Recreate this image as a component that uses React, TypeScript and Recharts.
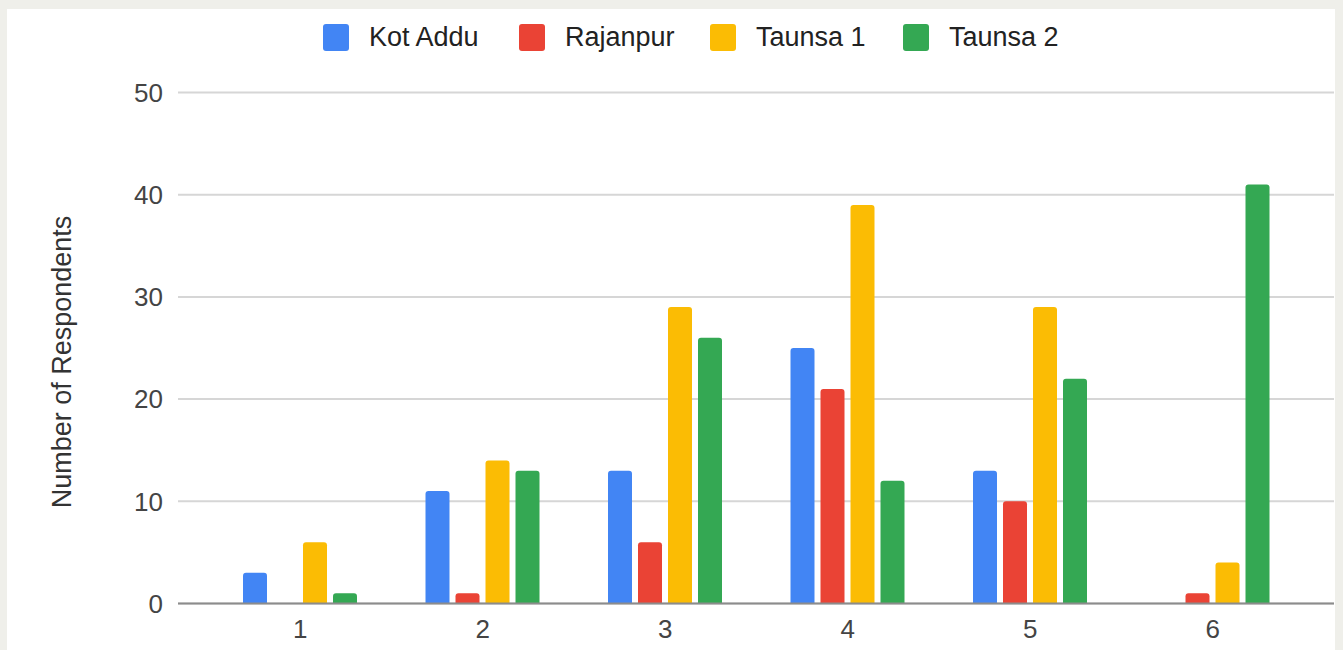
import React from "react";
import { BarChart, Bar, XAxis, YAxis, CartesianGrid } from "recharts";

const categories = ["1", "2", "3", "4", "5", "6"];
const kotAddu = [3, 11, 13, 25, 13, 0];
const rajanpur = [0, 1, 6, 21, 10, 1];
const taunsa1 = [6, 14, 29, 39, 29, 4];
const taunsa2 = [1, 13, 26, 12, 22, 41];
const yTicks = [0, 10, 20, 30, 40, 50];

const seriesNames = ["Kot Addu", "Rajanpur", "Taunsa 1", "Taunsa 2"];
const seriesKeys = ["kotAddu", "rajanpur", "taunsa1", "taunsa2"];
const seriesColors = ["#4285F4", "#EA4335", "#FBBC04", "#34A853"];
const legendLefts = [316, 512, 703, 896];

const data = categories.map((c, i) => ({
  cat: c,
  kotAddu: kotAddu[i],
  rajanpur: rajanpur[i],
  taunsa1: taunsa1[i],
  taunsa2: taunsa2[i],
}));

const FONT = "'Liberation Sans', Arial, sans-serif";

const YTitle = (props: any) => {
  const vb = props.viewBox || {};
  const cx = 55;
  const cy = vb.y + vb.height / 2 + 14;
  return (
    <text
      x={cx}
      y={cy}
      transform={`rotate(-90 ${cx} ${cy})`}
      textAnchor="middle"
      dominantBaseline="central"
      fill="#333"
      fontSize={27}
      fontFamily={FONT}
    >
      Number of Respondents
    </text>
  );
};

export default function App() {
  return (
    <div
      style={{
        position: "absolute",
        left: 0,
        top: 0,
        width: 1343,
        height: 650,
        background: "#efefea",
        overflow: "hidden",
      }}
    >
      <div
        style={{
          position: "absolute",
          left: 7,
          top: 9,
          width: 1328,
          height: 641,
          background: "#ffffff",
        }}
      >
        {seriesNames.map((n, i) => (
          <div
            key={n}
            style={{
              position: "absolute",
              left: legendLefts[i],
              top: 14,
              height: 28,
              display: "flex",
              alignItems: "center",
              fontFamily: FONT,
              fontSize: 27,
              color: "#222",
              whiteSpace: "nowrap",
            }}
          >
            <div
              style={{
                width: 26,
                height: 27,
                borderRadius: 3,
                background: seriesColors[i],
                marginRight: 20,
              }}
            />
            <span>{n}</span>
          </div>
        ))}
        <BarChart
          width={1328}
          height={641}
          data={data}
          margin={{ top: 83.5, right: 1, bottom: 16.5, left: 61 }}
          barCategoryGap={34}
          barGap={6}
        >
          <CartesianGrid vertical={false} stroke="#d6d6d6" strokeWidth={2} />
          <XAxis
            dataKey="cat"
            height={30}
            padding={{ left: 31, right: 30 }}
            tickLine={false}
            tickSize={0}
            tickMargin={16}
            axisLine={{ stroke: "#8c8c8c", strokeWidth: 2 }}
            tick={{ fill: "#444", fontSize: 26, fontFamily: FONT }}
          />
          <YAxis
            width={110}
            domain={[0, 50]}
            ticks={yTicks}
            interval={0}
            tickLine={false}
            tickSize={0}
            tickMargin={15}
            axisLine={false}
            tick={{ fill: "#444", fontSize: 26, fontFamily: FONT }}
            label={<YTitle />}
          />
          {seriesKeys.map((k, i) => (
            <Bar
              key={k}
              dataKey={k}
              name={seriesNames[i]}
              fill={seriesColors[i]}
              radius={[3, 3, 0, 0]}
              isAnimationActive={false}
            />
          ))}
        </BarChart>
      </div>
    </div>
  );
}
